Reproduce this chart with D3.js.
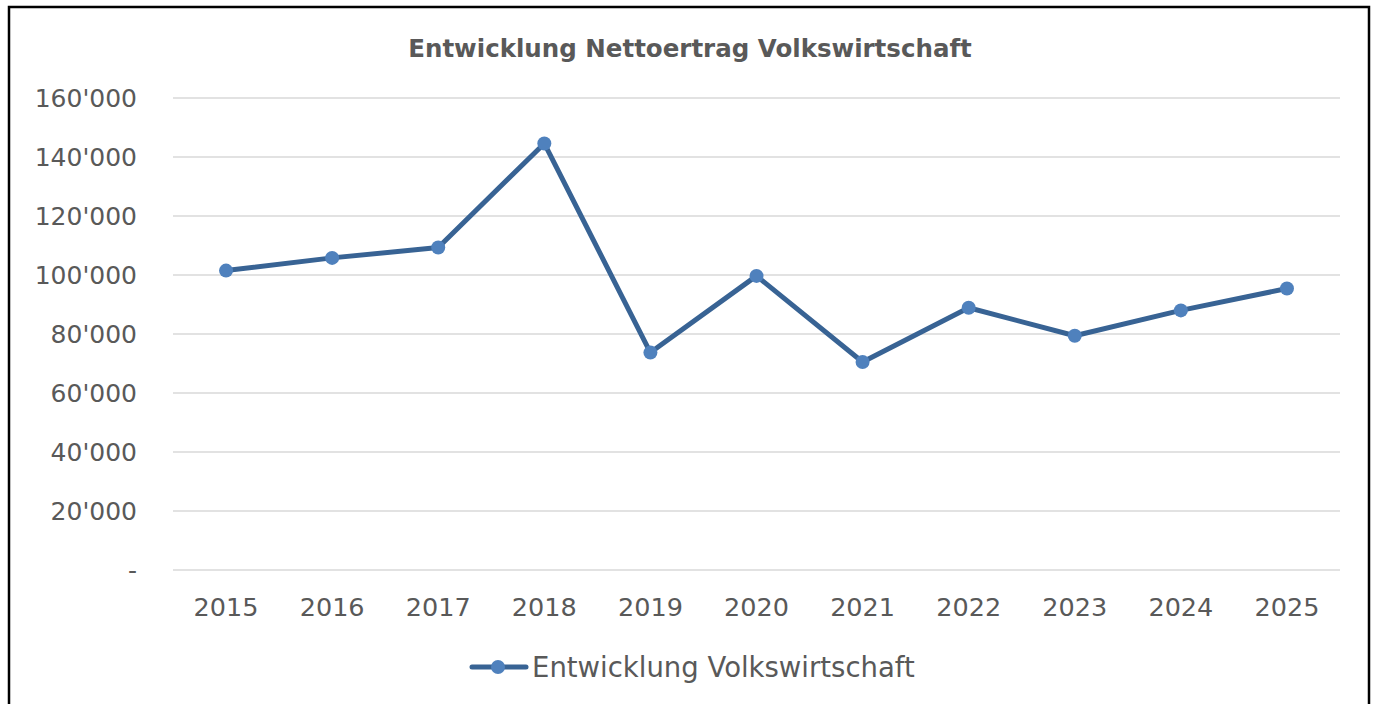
<!DOCTYPE html>
<html>
<head>
<meta charset="utf-8">
<script src="https://cdn.jsdelivr.net/npm/d3@7"></script>
<style>
  body { margin: 0; background: #fff; }
  text { font-family: "DejaVu Sans", sans-serif; fill: #595959; }
</style>
</head>
<body>
<svg id="grafico"></svg>
<script>
const breite = 1375;
const hoehe = 704;
const rand = { top: 98, right: 35, bottom: 134, left: 173 };

// Daten
const jahre = ["2015", "2016", "2017", "2018", "2019", "2020", "2021", "2022", "2023", "2024", "2025"];
const nettoertrag = [101500, 105800, 109300, 144600, 73700, 99700, 70500, 88900, 79400, 88000, 95400];
const yTicks = [0, 20000, 40000, 60000, 80000, 100000, 120000, 140000, 160000];
const titel = "Entwicklung Nettoertrag Volkswirtschaft";
const serienName = "Entwicklung Volkswirtschaft";

const svg = d3.select("#grafico")
  .attr("width", breite)
  .attr("height", hoehe);

// Rahmen
svg.append("rect")
  .attr("x", 9).attr("y", 7)
  .attr("width", 1360).attr("height", 730)
  .attr("fill", "none")
  .attr("stroke", "#000")
  .attr("stroke-width", 2.5);

const ch = d3.formatLocale({ decimal: ".", thousands: "'", grouping: [3], currency: ["", ""] });
const fmt = v => v === 0 ? "-" : ch.format(",")(v);

// Skalen
const x = d3.scaleBand()
  .domain(jahre)
  .range([rand.left, breite - rand.right]);

const y = d3.scaleLinear()
  .domain([0, 160000])
  .range([hoehe - rand.bottom, rand.top]);

// Gitterlinien
svg.append("g")
  .selectAll("line")
  .data(yTicks)
  .join("line")
  .attr("x1", rand.left)
  .attr("x2", breite - rand.right)
  .attr("y1", d => y(d))
  .attr("y2", d => y(d))
  .attr("stroke", "#d9d9d9")
  .attr("stroke-width", 1.5);

// Y-Achse
const yAchse = svg.append("g")
  .attr("transform", `translate(${rand.left}, 0)`)
  .call(d3.axisLeft(y).tickValues(yTicks).tickFormat(fmt).tickSize(0).tickPadding(36));
yAchse.select(".domain").remove();
yAchse.selectAll("text").style("font-size", "25px").style("font-family", null).attr("fill", "#595959");

// X-Achse
const xAchse = svg.append("g")
  .attr("transform", `translate(0, ${hoehe - rand.bottom})`)
  .call(d3.axisBottom(x).tickSize(0).tickPadding(28));
xAchse.select(".domain").remove();
xAchse.selectAll("text").style("font-size", "25.5px").style("font-family", null).attr("fill", "#595959");

// Linie
const linie = d3.line()
  .x((d, i) => x(jahre[i]) + x.bandwidth() / 2)
  .y(d => y(d));

svg.append("path")
  .datum(nettoertrag)
  .attr("fill", "none")
  .attr("stroke", "#386394")
  .attr("stroke-width", 5)
  .attr("stroke-linejoin", "round")
  .attr("stroke-linecap", "round")
  .attr("d", linie);

svg.append("g")
  .selectAll("circle")
  .data(nettoertrag)
  .join("circle")
  .attr("cx", (d, i) => x(jahre[i]) + x.bandwidth() / 2)
  .attr("cy", d => y(d))
  .attr("r", 7)
  .attr("fill", "#4f81bd");

// Titel
svg.append("text")
  .attr("x", 690)
  .attr("y", 57)
  .attr("text-anchor", "middle")
  .style("font-size", "24.5px")
  .style("font-weight", "bold")
  .text(titel);

// Legende
const leg = svg.append("g");
leg.append("line")
  .attr("x1", 472).attr("x2", 526)
  .attr("y1", 667).attr("y2", 667)
  .attr("stroke", "#386394")
  .attr("stroke-width", 5)
  .attr("stroke-linecap", "round");
leg.append("circle")
  .attr("cx", 498).attr("cy", 667)
  .attr("r", 7)
  .attr("fill", "#4f81bd");
leg.append("text")
  .attr("x", 532)
  .attr("y", 667)
  .attr("dy", "0.35em")
  .style("font-size", "27.5px")
  .text(serienName);
</script>
</body>
</html>
